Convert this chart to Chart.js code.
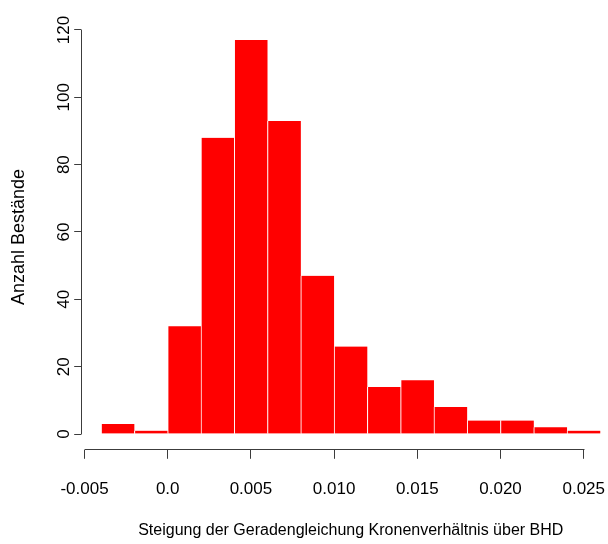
<!DOCTYPE html>
<html>
<head>
<meta charset="utf-8">
<script src="https://cdn.jsdelivr.net/npm/chart.js@4/dist/chart.umd.min.js"></script>
<style>
  html, body { margin: 0; padding: 0; background: #fff; overflow: hidden; }
  #wrap { width: 625px; height: 544px; position: relative; }
</style>
</head>
<body>
<div id="wrap"><canvas id="chart"></canvas></div>
<script>
// histogram bins (width 0.002) and their counts
const binCenters = [-0.003, -0.001, 0.001, 0.003, 0.005, 0.007, 0.009, 0.011,
                    0.013, 0.015, 0.017, 0.019, 0.021, 0.023, 0.025];
const counts = [3, 1, 32, 88, 117, 93, 47, 26, 14, 16, 8, 4, 4, 2, 1];

const xTickValues = [-0.005, 0, 0.005, 0.010, 0.015, 0.020, 0.025];
const xTickLabels = ['-0.005', '0.0', '0.005', '0.010', '0.015', '0.020', '0.025'];
const yTickValues = [0, 20, 40, 60, 80, 100, 120];
const yTickLabels = ['0', '20', '40', '60', '80', '100', '120'];

const xTitle = 'Steigung der Geradengleichung Kronenverhältnis über BHD';
const yTitle = 'Anzahl Bestände';

const family = "'Liberation Sans', Arial, sans-serif";
const tickFont = { family, size: 17 };
const axisColor = '#3c3c3c';

// R-style axis lines: only span first to last tick
const axisLines = {
  id: 'axisLines',
  afterDraw(chart) {
    const { ctx, chartArea, scales: { x, y } } = chart;
    ctx.save();
    ctx.strokeStyle = axisColor;
    ctx.lineWidth = 1;
    ctx.beginPath();
    const by = Math.round(chartArea.bottom - 0.5) + 0.5;
    ctx.moveTo(Math.round(x.getPixelForValue(xTickValues[0])) - 0.5, by);
    ctx.lineTo(Math.round(x.getPixelForValue(xTickValues[xTickValues.length - 1])) + 0.5, by);
    const lx = Math.round(chartArea.left - 0.5) + 0.5;
    ctx.moveTo(lx, Math.round(y.getPixelForValue(yTickValues[0])) + 0.5);
    ctx.lineTo(lx, Math.round(y.getPixelForValue(yTickValues[yTickValues.length - 1])) - 0.5);
    ctx.stroke();
    ctx.restore();
  }
};

new Chart(document.getElementById('chart'), {
  type: 'bar',
  data: {
    datasets: [{
      data: binCenters.map((c, i) => ({ x: c, y: counts[i] })),
      backgroundColor: '#ff0000',
      borderColor: '#ffffff',
      borderWidth: { left: 1, right: 0, top: 0, bottom: 0 },
      borderSkipped: false,
      barPercentage: 1,
      categoryPercentage: 1
    }]
  },
  options: {
    responsive: true,
    maintainAspectRatio: false,
    animation: false,
    devicePixelRatio: 1,
    layout: { padding: { top: 24.3, left: 0, right: 0, bottom: 0 } },
    plugins: { legend: { display: false }, tooltip: { enabled: false } },
    scales: {
      x: {
        type: 'linear',
        offset: false,
        min: -0.0052,
        max: 0.0272,
        afterBuildTicks: s => { s.ticks = xTickValues.map(v => ({ value: v })); },
        afterFit: s => { s.height = 94.2; },
        border: { display: false },
        grid: { display: true, offset: false, drawOnChartArea: false, drawTicks: true, tickLength: 9, color: axisColor },
        ticks: {
          autoSkip: false, maxRotation: 0, padding: 20, color: '#000', font: tickFont,
          callback: (v, i) => xTickLabels[i]
        },
        title: { display: true, text: xTitle, color: '#000', font: { family, size: 16 }, padding: { top: 0, bottom: 4 } }
      },
      y: {
        type: 'linear',
        min: -4.68,
        max: 121.68,
        afterBuildTicks: s => { s.ticks = yTickValues.map(v => ({ value: v })); },
        afterFit: s => { s.width = 81.2; },
        border: { display: false },
        grid: { display: true, drawOnChartArea: false, drawTicks: true, tickLength: 7, color: axisColor },
        ticks: {
          autoSkip: false, minRotation: 90, maxRotation: 90, crossAlign: 'center', padding: -4,
          color: '#000', font: tickFont,
          callback: (v, i) => yTickLabels[i]
        },
        title: { display: true, text: yTitle, color: '#000', font: { family, size: 18 }, padding: { top: 8, bottom: 0 } }
      }
    }
  },
  plugins: [axisLines]
});
</script>
</body>
</html>
